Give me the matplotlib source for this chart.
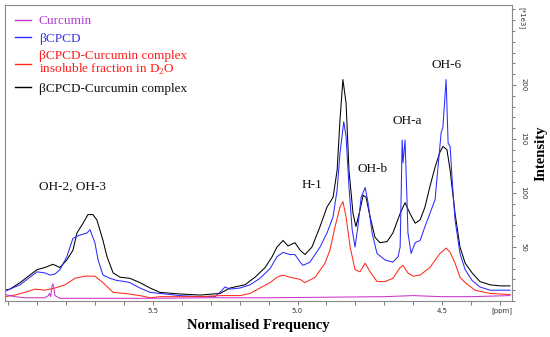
import matplotlib
matplotlib.use('Agg')
import matplotlib.pyplot as plt
from matplotlib.ticker import MultipleLocator, FixedLocator, FixedFormatter
from matplotlib.lines import Line2D

plt.rcParams['font.family'] = ['Liberation Serif', 'DejaVu Serif']
plt.rcParams['mathtext.fontset'] = 'custom'
plt.rcParams['mathtext.rm'] = 'Liberation Serif'

# ---------------- data (ppm, intensity x1e3) ----------------
black_ppm = [6.012, 5.995, 5.960, 5.926, 5.901, 5.874, 5.846, 5.822, 5.798, 5.777, 5.763, 5.742,
             5.725, 5.708, 5.694, 5.673, 5.659, 5.638, 5.614, 5.580, 5.545, 5.510, 5.476, 5.407,
             5.337, 5.268, 5.234, 5.182, 5.147, 5.112, 5.088, 5.071, 5.050, 5.033, 5.009, 4.991,
             4.974, 4.950, 4.922, 4.898, 4.877, 4.863, 4.853, 4.843, 4.832, 4.822, 4.808, 4.798,
             4.784, 4.773, 4.763, 4.749, 4.732, 4.715, 4.690, 4.670, 4.645, 4.628, 4.611, 4.593,
             4.576, 4.559, 4.542, 4.524, 4.507, 4.497, 4.483, 4.472, 4.455, 4.438, 4.420, 4.396,
             4.369, 4.334, 4.299, 4.265]
black_int = [10, 11, 17, 24, 29, 31, 34, 31, 38, 47, 63, 72,
             80, 80, 75, 56, 41, 26, 22, 21, 17, 12, 8, 6.5,
             5.5, 7, 12, 15, 22, 31, 41, 50, 56, 51, 54, 47,
             43, 50, 69, 87, 96, 121, 168, 205, 183, 121, 81, 69,
             84, 98, 96, 78, 59, 54, 55, 63, 81, 91, 81, 72,
             75, 87, 106, 124, 138, 143, 140, 121, 81, 50, 35, 26,
             18, 15, 14, 14]

blue_ppm = [6.012, 5.960, 5.926, 5.901, 5.874, 5.856, 5.839, 5.822, 5.798, 5.777, 5.753, 5.728,
            5.718, 5.701, 5.690, 5.673, 5.649, 5.625, 5.597, 5.580, 5.545, 5.510, 5.476, 5.407,
            5.337, 5.285, 5.261, 5.251, 5.234, 5.199, 5.164, 5.130, 5.095, 5.071, 5.050, 5.026,
            5.009, 4.991, 4.981, 4.957, 4.922, 4.898, 4.877, 4.863, 4.853, 4.840, 4.832, 4.822,
            4.811, 4.801, 4.791, 4.780, 4.766, 4.756, 4.742, 4.725, 4.697, 4.670, 4.652, 4.645,
            4.642, 4.638, 4.635, 4.628, 4.621, 4.618, 4.607, 4.593, 4.576, 4.559, 4.542, 4.524,
            4.514, 4.503, 4.497, 4.486, 4.479, 4.472, 4.465, 4.455, 4.438, 4.420, 4.396, 4.369,
            4.334, 4.265]
blue_int = [9, 15, 22, 27, 26, 24, 25, 29, 41, 58, 61, 63,
            66, 54, 38, 24, 21, 19, 18, 17, 12, 8, 7, 5,
            4, 4, 10, 13, 11, 12, 15, 21, 30, 41, 45, 43,
            43, 36, 33, 36, 50, 63, 78, 103, 137, 166, 152, 106,
            66, 50, 69, 96, 105, 91, 63, 44, 38, 36, 41, 50,
            91, 149, 128, 149, 91, 63, 44, 54, 56, 69, 81, 94,
            124, 156, 161, 205, 146, 143, 112, 75, 44, 29, 19, 13,
            10, 10]

red_ppm = [6.012, 5.978, 5.943, 5.908, 5.874, 5.839, 5.804, 5.770, 5.735, 5.701, 5.673, 5.638,
           5.597, 5.545, 5.510, 5.476, 5.337, 5.268, 5.199, 5.164, 5.130, 5.095, 5.071, 5.050,
           5.026, 5.009, 4.991, 4.974, 4.939, 4.905, 4.888, 4.870, 4.853, 4.843, 4.832, 4.818,
           4.801, 4.784, 4.766, 4.749, 4.725, 4.697, 4.670, 4.645, 4.635, 4.618, 4.600, 4.576,
           4.542, 4.507, 4.486, 4.472, 4.455, 4.438, 4.420, 4.386, 4.334, 4.265]
red_int = [4, 5.5, 8, 11, 10, 12, 15, 21, 23, 23, 17, 8,
           7, 5, 3, 4, 4, 5, 5, 7, 12, 17, 22, 24,
           22, 21, 20, 17, 22, 35, 47, 69, 87, 92, 78, 50,
           29, 27, 35, 27, 18, 18, 21, 31, 33, 26, 23, 24,
           31, 44, 49, 45, 35, 22, 17, 10, 7, 6]

curc_ppm = [6.012, 5.978, 5.943, 5.900, 5.874, 5.862, 5.858, 5.854, 5.849, 5.846, 5.843, 5.839,
            5.822, 5.700, 5.500, 5.300, 5.100, 4.900, 4.700, 4.600, 4.500, 4.400, 4.265]
curc_int = [6, 4, 3, 3, 3, 5, 7, 4, 14, 16, 12, 5,
            2.5, 2.5, 2.5, 3, 3, 3.5, 4, 5, 4, 4, 5]

series_labels = ['Curcumin', '\u03b2CPCD',
                 '\u03b2CPCD-Curcumin complex\ninsoluble fraction in D$_\\mathregular{2}$O',
                 '\u03b2CPCD-Curcumin complex']
line_colors = ['#cc33cc', '#2b2bff', '#ff2a1a', '#000000']
text_colors = ['#b23fd6', '#3333ee', '#ff1a1a', '#111111']

peak_labels = ['OH-2, OH-3', 'H-1', 'OH-b', 'OH-a', 'OH-6']
peak_ppm = [5.777, 4.950, 4.742, 4.621, 4.483]
peak_y = [106, 107, 122, 167, 218]

x_major = [5.5, 5.0, 4.5]
x_major_labels = ['5.5', '5.0', '4.5']
y_major = [50, 100, 150, 200]

# ---------------- figure ----------------
fig = plt.figure(figsize=(5.5, 3.37), dpi=100)
ax = fig.add_axes([5 / 550, 36 / 337, 507 / 550, 296 / 337])

lw = 0.75
ax.plot(black_ppm, black_int, color=line_colors[3], lw=lw)
ax.plot(blue_ppm, blue_int, color=line_colors[1], lw=lw)
ax.plot(red_ppm, red_int, color=line_colors[2], lw=lw)
ax.plot(curc_ppm, curc_int, color=line_colors[0], lw=lw)

ax.set_xlim(6.012, 4.258)
ax.set_ylim(0, 274)

for s in ax.spines.values():
    s.set_color('#8a8a8a')
    s.set_linewidth(0.8)

# x ticks
ax.xaxis.set_major_locator(FixedLocator(x_major))
ax.xaxis.set_major_formatter(FixedFormatter(x_major_labels))
ax.xaxis.set_minor_locator(MultipleLocator(0.1))
ax.tick_params(axis='x', which='both', direction='out', color='#666666', labelsize=5,
               labelcolor='#333333', pad=2)
ax.tick_params(axis='x', which='both', length=3, width=0.6)
for t in ax.get_xticklabels():
    t.set_fontfamily('DejaVu Sans')

# y ticks on right
ax.yaxis.tick_right()
ax.yaxis.set_major_locator(FixedLocator(y_major))
ax.yaxis.set_minor_locator(MultipleLocator(10))
ax.tick_params(axis='y', which='both', direction='out', color='#666666', labelsize=5,
               labelcolor='#333333', pad=3, labelrotation=270)
ax.tick_params(axis='y', which='major', length=3, width=0.6)
ax.tick_params(axis='y', which='minor', length=2, width=0.6)
for t in ax.get_yticklabels():
    t.set_fontfamily('DejaVu Sans')
    t.set_verticalalignment('center')

ax.text(1.02, 0.955, '[*1e3]', transform=ax.transAxes, rotation=270, fontsize=5,
        family='DejaVu Sans', color='#333333', ha='center', va='center')
ax.text(0.980, -0.031, '[ppm]', transform=ax.transAxes, fontsize=5,
        family='DejaVu Sans', color='#333333', ha='center', va='center')

ax.set_xlabel('Normalised Frequency', fontsize=10.5, fontweight='bold', labelpad=4)
ax.yaxis.set_label_position('right')
ax.set_ylabel('Intensity', fontsize=10.5, fontweight='bold', rotation=90, labelpad=6)

for lab, px, py in zip(peak_labels, peak_ppm, peak_y):
    ax.text(px, py, lab, fontsize=9.5, ha='center', va='center', color='#111111')

# legend
handles = [Line2D([], [], color=c, lw=1.0) for c in line_colors]
leg = ax.legend(handles, series_labels, loc='upper left', bbox_to_anchor=(0.0, 1.0),
                frameon=False, fontsize=9.5, handlelength=1.2, handletextpad=0.6,
                labelspacing=0.42, borderpad=0.35, borderaxespad=0.4)
for t, c in zip(leg.get_texts(), text_colors):
    t.set_color(c)
    t.set_linespacing(0.95)

fig.savefig('out.png', dpi=100)
